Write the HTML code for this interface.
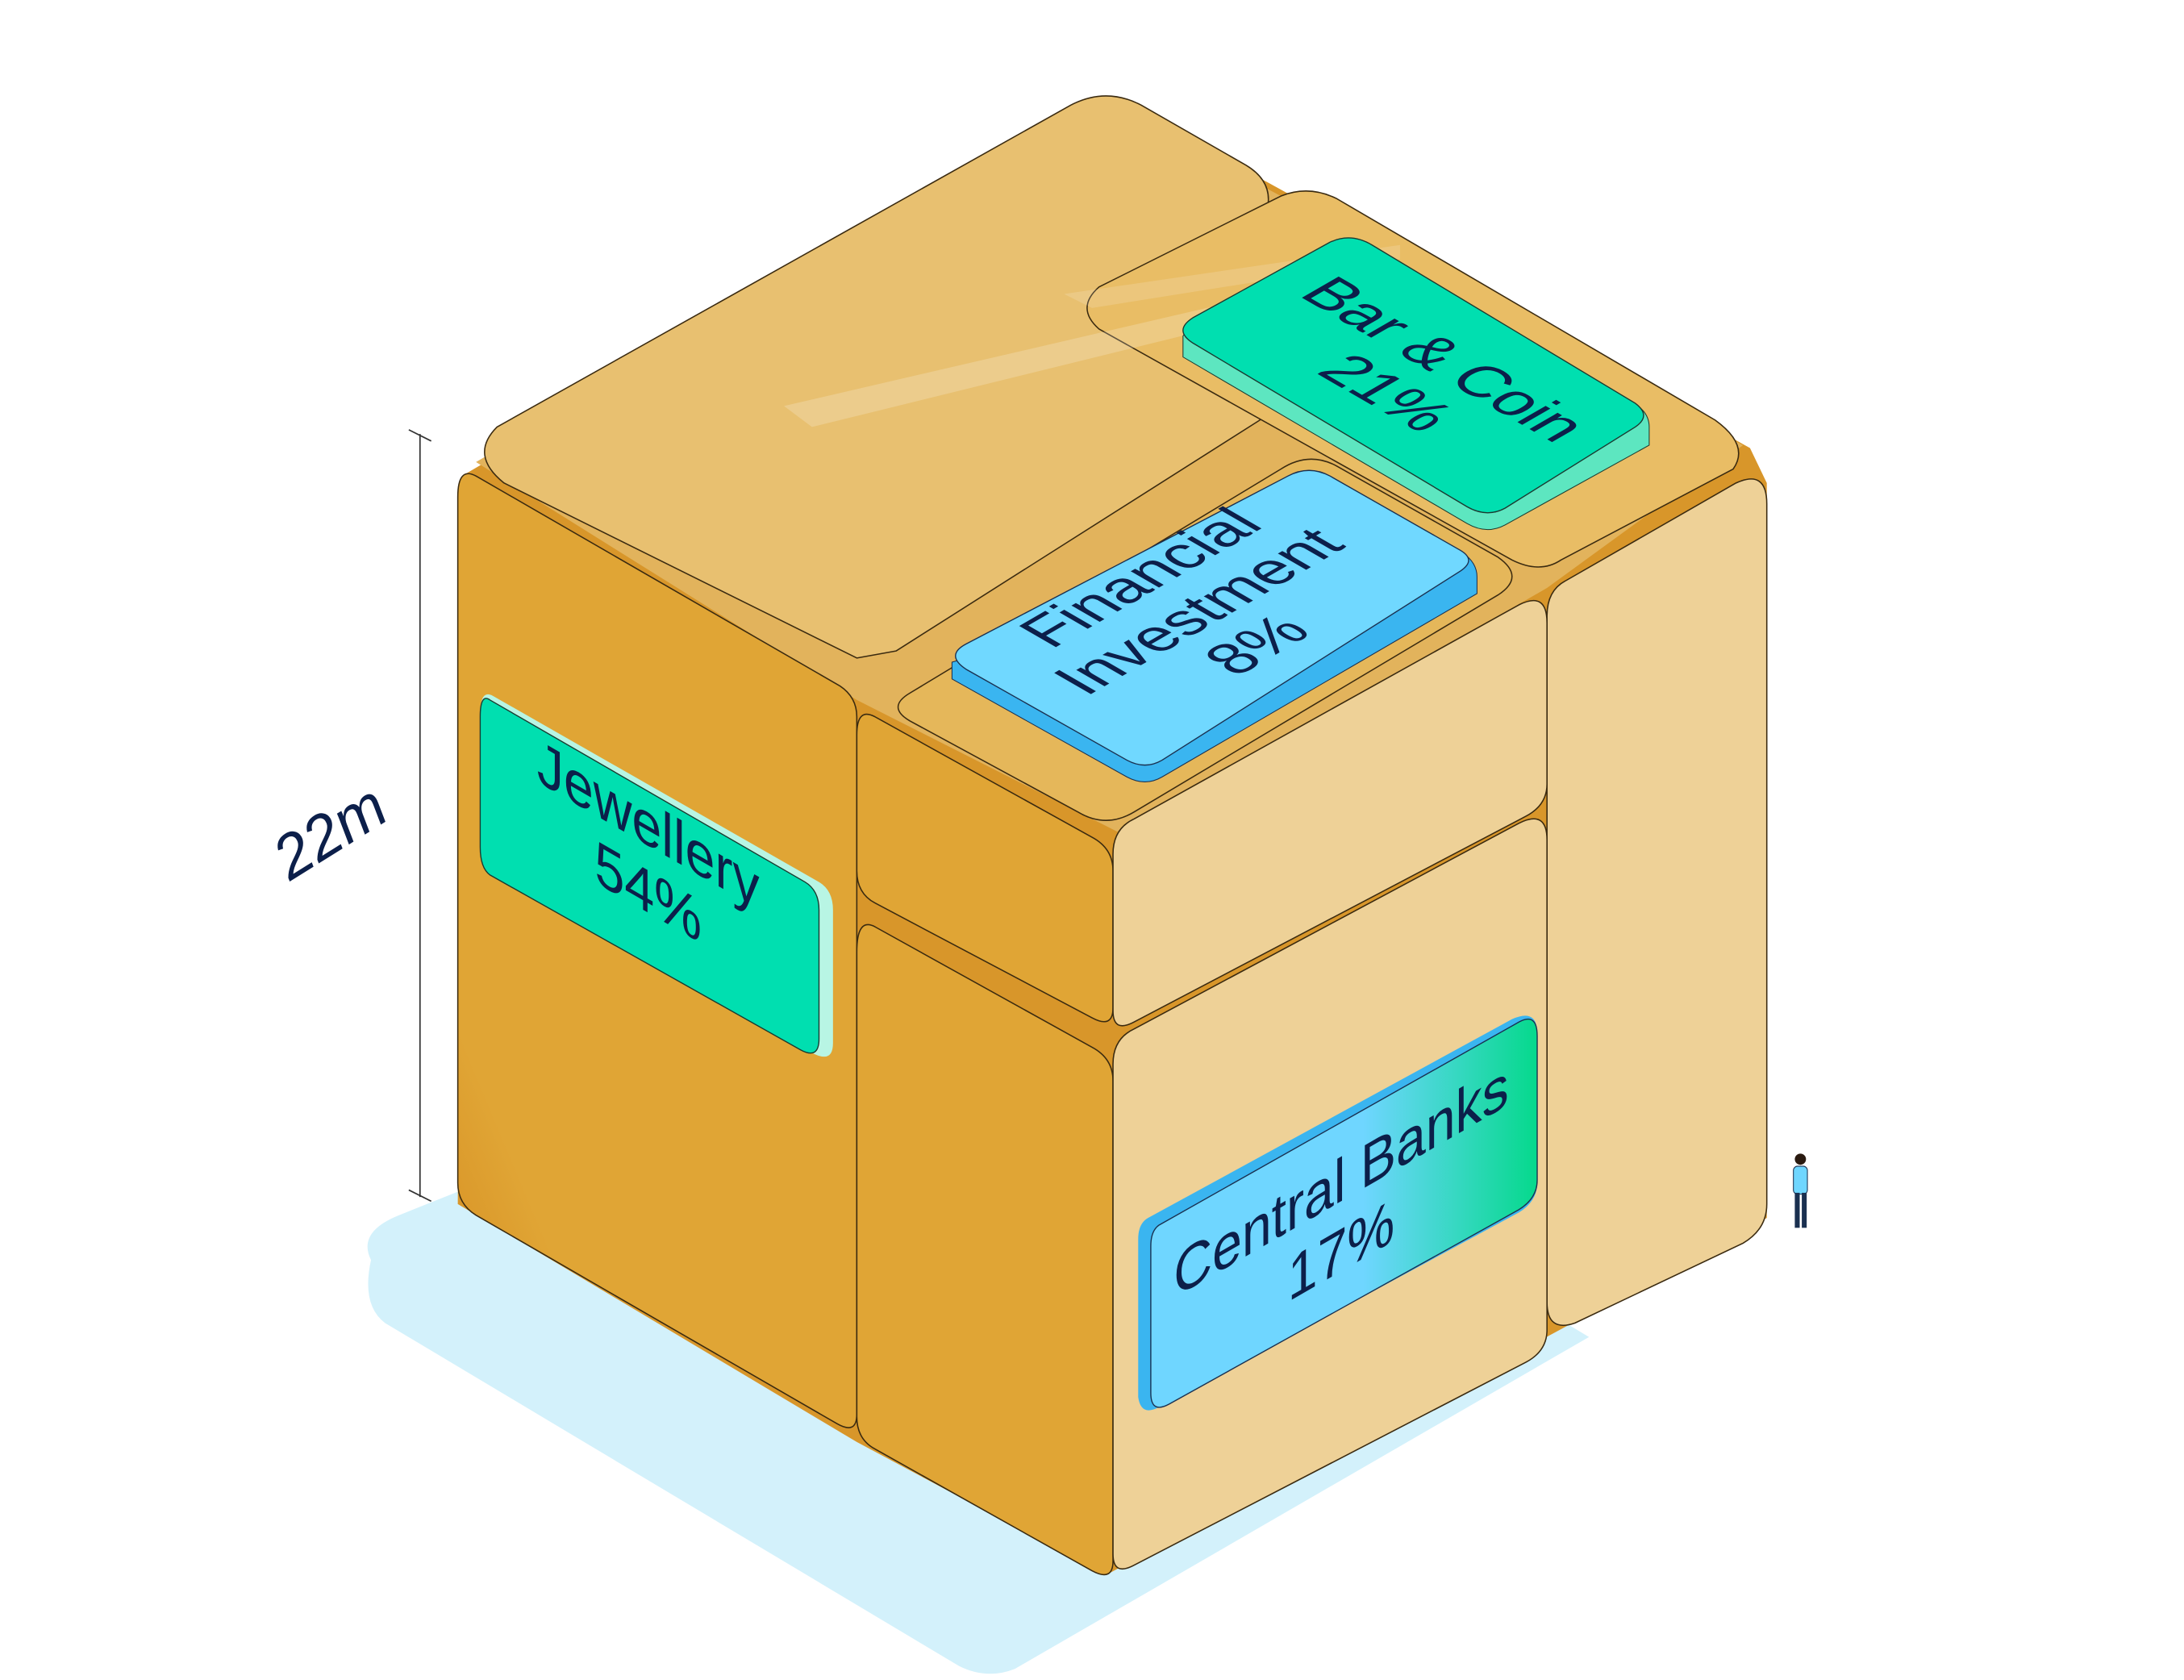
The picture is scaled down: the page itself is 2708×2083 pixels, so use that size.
<!DOCTYPE html>
<html><head><meta charset="utf-8"><style>
html,body{margin:0;padding:0;background:#fff;}
svg{display:block;}
text{font-family:"Liberation Sans","DejaVu Sans",sans-serif;fill:#0c1f4a;}
</style></head><body>
<svg width="2708" height="2083" viewBox="0 0 1560 1200" preserveAspectRatio="none" xmlns="http://www.w3.org/2000/svg">
<defs>
<linearGradient id="cb" x1="0" y1="0" x2="1" y2="0">
<stop offset="0.55" stop-color="#6fd6ff"/><stop offset="1" stop-color="#05d98c"/>
</linearGradient>
<linearGradient id="lf" x1="0" y1="1" x2="0.6" y2="0.4">
<stop offset="0" stop-color="#d48a1e"/><stop offset="0.35" stop-color="#e0a535"/>
</linearGradient>
</defs>
<!-- shadow -->
<path d="M265,900 Q255,880 285,868 L330,850 L700,1060 L1110,940 L1135,955 L725,1192 Q705,1200 685,1190 L275,945 Q258,932 265,900 Z" fill="#d3f1fb"/>
<!-- hull backgrounds -->
<path d="M330,340 L790,70 L905,130 L1250,320 L1262,345 L1262,870 L790,1125 L612,1030 L327,860 Z" fill="#d8962a"/>
<path d="M340,330 L785,70 L1245,318 L1105,420 L800,595 L612,500 Z" fill="#e2b35c"/>
<g stroke="#3a2a10" stroke-width="0.9" stroke-linejoin="round">
<!-- left face -->
<path d="M340,340 L600,490 Q612,498 612,512 L612,1010 Q612,1025 598,1017 L340,868 Q327,860 327,845 L327,355 Q327,333 340,340 Z" fill="url(#lf)"/>
<!-- top slab -->
<path d="M355,305 L765,75 Q790,62 815,75 L890,118 Q910,130 905,150 L900,300 L640,465 L612,470 L360,345 Q335,325 355,305 Z" fill="#e8c070"/>
<!-- bar & coin block top -->
<path d="M785,205 L915,140 Q935,132 955,142 L1225,300 Q1250,318 1238,335 L1115,400 Q1100,410 1080,400 L785,235 Q768,220 785,205 Z" fill="#e9bd65"/>
<!-- right column -->
<path d="M1118,415 L1240,345 Q1262,335 1262,360 L1262,860 Q1262,878 1245,888 L1125,945 Q1105,952 1105,930 L1105,440 Q1105,422 1118,415 Z" fill="#eed197"/>
<!-- middle upper block top -->
<path d="M650,495 L915,335 Q935,322 955,333 L1070,398 Q1090,412 1070,425 L810,580 Q790,592 770,580 L650,515 Q633,505 650,495 Z" fill="#e5b75a"/>
<!-- middle upper left face -->
<path d="M625,512 L780,598 Q795,606 795,622 L795,720 Q795,735 780,727 L625,645 Q612,638 612,622 L612,525 Q612,505 625,512 Z" fill="#e0a535"/>
<!-- middle upper right face -->
<path d="M810,585 L1085,432 Q1105,422 1105,445 L1105,560 Q1105,575 1090,583 L810,730 Q795,738 795,722 L795,610 Q795,592 810,585 Z" fill="#eed197"/>
<!-- middle lower left -->
<path d="M625,662 L780,748 Q795,756 795,772 L795,1115 Q795,1130 780,1122 L625,1035 Q612,1028 612,1012 L612,680 Q612,655 625,662 Z" fill="#e0a535"/>
<!-- middle lower right -->
<path d="M810,735 L1085,588 Q1105,578 1105,600 L1105,950 Q1105,965 1090,973 L810,1118 Q795,1126 795,1110 L795,760 Q795,742 810,735 Z" fill="#eed197"/>
</g>
<!-- highlight streaks -->
<path d="M560,290 L905,210 L905,225 L580,305 Z" fill="#fff" opacity="0.2"/>
<path d="M760,210 L1000,175 L1000,185 L780,220 Z" fill="#fff" opacity="0.15"/>

<!-- Jewellery tag -->
<path d="M352,497 L585,630 Q595,636 595,650 L595,745 Q595,760 580,752 L350,625 Q343,620 343,605 L343,510 Q343,492 352,497 Z" fill="#b8f5e4"/>
<path d="M350,500 L575,630 Q585,636 585,650 L585,742 Q585,757 572,750 L350,625 Q343,620 343,605 L343,512 Q343,495 350,500 Z" fill="#00dfb0" stroke="#1a3a30" stroke-width="0.8"/>
<g transform="translate(463,610) matrix(0.866,0.5,0,1,0,0)">
<text x="0" y="-6" font-size="44" text-anchor="middle">Jewellery</text>
<text x="0" y="42" font-size="44" text-anchor="middle">54%</text>
</g>

<!-- Central Banks tag -->
<path d="M820,870 L1080,728 Q1098,720 1098,738 L1098,845 Q1098,858 1085,866 L828,1005 Q815,1012 813,998 L813,885 Q813,874 820,870 Z" fill="#3ab5f0"/>
<path d="M828,875 L1085,730 Q1098,723 1098,740 L1098,843 Q1098,856 1085,864 L835,1003 Q822,1010 822,995 L822,890 Q822,879 828,875 Z" fill="url(#cb)" stroke="#1a3050" stroke-width="0.8"/>
<g transform="translate(958,866) matrix(0.866,-0.5,0,1,0,0)">
<text x="0" y="-8" font-size="44" text-anchor="middle">Central Banks</text>
<text x="0" y="42" font-size="44" text-anchor="middle">17%</text>
</g>

<!-- Financial Investment tag -->
<path d="M690,470 L920,340 Q935,332 950,340 L1045,395 Q1055,402 1055,412 L1055,424 L830,555 Q818,562 805,555 L680,485 L680,473 Z" fill="#3ab5f0" stroke="#1a3050" stroke-width="0.6"/>
<path d="M690,460 L920,340 Q935,332 950,340 L1043,393 Q1055,400 1043,408 L830,543 Q818,550 805,543 L690,478 Q675,468 690,460 Z" fill="#70d8ff" stroke="#1a3050" stroke-width="0.8"/>
<g transform="translate(862,440) matrix(0.866,-0.5,0.866,0.5,0,0)">
<text x="0" y="-40" font-size="44" text-anchor="middle">Financial</text>
<text x="0" y="8" font-size="44" text-anchor="middle">Investment</text>
<text x="0" y="56" font-size="44" text-anchor="middle">8%</text>
</g>

<!-- Bar & Coin tag -->
<path d="M850,232 L950,175 Q965,168 980,176 L1170,290 Q1178,296 1178,305 L1178,318 L1075,375 Q1062,382 1048,374 L845,255 L845,240 Z" fill="#5de6c0" stroke="#1a3a30" stroke-width="0.6"/>
<path d="M852,227 L950,173 Q965,166 980,175 L1168,288 Q1180,297 1168,305 L1075,363 Q1062,370 1048,362 L852,245 Q838,236 852,227 Z" fill="#00dfb0" stroke="#1a3a30" stroke-width="0.8"/>
<g transform="translate(1012,268) matrix(0.866,0.5,-0.866,0.5,0,0)">
<text x="0" y="-8" font-size="44" text-anchor="middle">Bar &amp; Coin</text>
<text x="0" y="40" font-size="44" text-anchor="middle">21%</text>
</g>

<!-- 22m dimension -->
<g stroke="#333" stroke-width="1">
<line x1="300" y1="310" x2="300" y2="855"/>
<line x1="292" y1="307" x2="308" y2="315"/>
<line x1="292" y1="850" x2="308" y2="858"/>
</g>
<g transform="translate(236,595) rotate(-32)">
<text x="0" y="14" font-size="44" text-anchor="middle" font-style="italic">22m</text>
</g>

<!-- person -->
<g>
<circle cx="1286" cy="828" r="4" fill="#2a1a10"/>
<rect x="1281" y="833" width="10" height="20" rx="3" fill="#6fd6ff" stroke="#1a3050" stroke-width="0.6"/>
<rect x="1282" y="852" width="3.5" height="25" fill="#1a3050"/>
<rect x="1287" y="852" width="3.5" height="25" fill="#1a3050"/>
</g>
</svg>
</body></html>
